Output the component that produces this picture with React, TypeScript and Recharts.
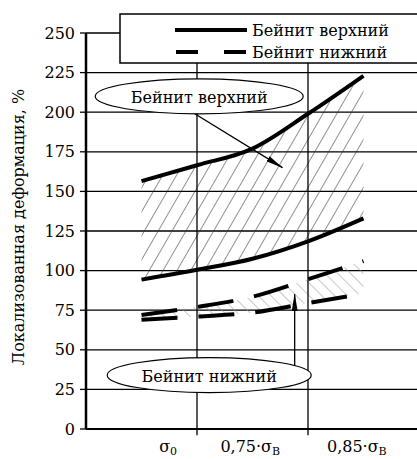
import React from 'react'
import {
  ComposedChart,
  Line,
  Area,
  XAxis,
  YAxis,
  CartesianGrid,
  ReferenceLine,
  ReferenceDot,
  Legend,
} from 'recharts'

// stress levels on the x axis (0 = axis, 1 and 2 = grid lines)
const xValues = [0.5, 1, 1.5, 2, 2.5]
// upper bainite band, %
const upperMax = [156.5, 166.5, 177, 199, 223]
const upperMin = [94.3, 100.5, 107.5, 118.5, 133]
// lower bainite band, %
const lowerMax = [72, 77, 83.5, 94.5, 106]
const lowerMin = [69, 71, 73.5, 79.5, 85.5]

const yTicks = [0, 25, 50, 75, 100, 125, 150, 175, 200, 225, 250]
const gridX = [1, 2]
const xLabelPos = [0.74, 1.48, 2.44]
const xLabelMain = ['σ', '0,75·σ', '0,85·σ']
const xLabelSub = ['0', 'B', 'B']

const seriesNames = ['Бейнит верхний', 'Бейнит нижний']
const yTitle = 'Локализованная деформация, %'

const FONT = "'DejaVu Serif', serif"
const txt = { fontFamily: FONT, fontSize: 16 }

const data = xValues.map((x, i) => ({
  x,
  uMax: upperMax[i],
  uMin: upperMin[i],
  lMax: lowerMax[i],
  lMin: lowerMin[i],
  uRange: [upperMin[i], upperMax[i]],
  lRange: [lowerMin[i], lowerMax[i]],
}))

function XTick(props: any) {
  const { x, y, index } = props
  return (
    <text x={x} y={y + 15} textAnchor="middle" style={txt} fill="#000">
      <tspan>{xLabelMain[index]}</tspan>
      <tspan style={{ fontSize: 11 }} dy={3}>
        {xLabelSub[index]}
      </tspan>
    </text>
  )
}

function LegendBox() {
  return (
    <svg width={310} height={52} style={{ display: 'block' }}>
      <rect x={1} y={1} width={330} height={49} fill="#fff" stroke="#000" strokeWidth={1.5} />
      <line x1={56} y1={17} x2={128} y2={17} stroke="#000" strokeWidth={4} />
      <text x={133} y={23} style={txt} fill="#000">
        {seriesNames[0]}
      </text>
      <line x1={57} y1={39} x2={128} y2={39} stroke="#000" strokeWidth={4} strokeDasharray="22 26" />
      <text x={133} y={45} style={txt} fill="#000">
        {seriesNames[1]}
      </text>
    </svg>
  )
}

function Bubble(text: string, rx: number) {
  return (p: any) => (
    <g>
      <ellipse cx={p.cx} cy={p.cy} rx={rx} ry={17.5} fill="#fff" stroke="#000" strokeWidth={1.2} />
      <text x={p.cx} y={p.cy + 7} textAnchor="middle" style={txt} fill="#000">
        {text}
      </text>
    </g>
  )
}

const arrowLine = (p: any) => (
  <line x1={p.x1} y1={p.y1} x2={p.x2} y2={p.y2} stroke="#000" strokeWidth={1.3} markerEnd="url(#arrowHead)" />
)

export default function App() {
  return (
    <div
      style={{
        position: 'absolute',
        left: 0,
        top: 0,
        width: 417,
        height: 459,
        overflow: 'hidden',
        background: '#fff',
        fontFamily: FONT,
      }}
    >
      <ComposedChart width={440} height={459} data={data} margin={{ top: 33, right: 21, bottom: 0, left: 0 }}>
        <defs>
          <pattern id="hatchUp" width={12} height={12} patternUnits="userSpaceOnUse" patternTransform="rotate(30)">
            <line x1={0} y1={0} x2={0} y2={12} stroke="#333" strokeWidth={1.1} />
          </pattern>
          <pattern id="hatchDown" width={9} height={9} patternUnits="userSpaceOnUse" patternTransform="rotate(-45)">
            <line x1={0} y1={0} x2={0} y2={9} stroke="#999" strokeWidth={1.1} />
          </pattern>
          <marker
            id="arrowHead"
            viewBox="0 0 18 6"
            refX={17}
            refY={3}
            markerWidth={18}
            markerHeight={6}
            markerUnits="userSpaceOnUse"
            orient="auto"
          >
            <path d="M0,0 L18,3 L0,6 z" fill="#000" />
          </marker>
        </defs>
        <CartesianGrid vertical={false} stroke="#000" strokeWidth={1.3} />
        <XAxis
          dataKey="x"
          type="number"
          domain={[0, 3]}
          ticks={xLabelPos}
          tick={<XTick />}
          tickLine={false}
          axisLine={{ stroke: '#000', strokeWidth: 2 }}
          height={30}
          interval={0}
        />
        <YAxis
          type="number"
          domain={[0, 250]}
          ticks={yTicks}
          width={86}
          tickSize={6}
          tickMargin={5}
          tickLine={{ stroke: '#000', strokeWidth: 1.3 }}
          axisLine={{ stroke: '#000', strokeWidth: 2.5 }}
          tick={{ fill: '#000', style: txt }}
          interval={0}
          label={{
            content: () => (
              <text transform="translate(24,227) rotate(-90)" textAnchor="middle" style={txt} fill="#000">
                {yTitle}
              </text>
            ),
          }}
        />
        {gridX.map((gx) => (
          <ReferenceLine
            key={gx}
            segment={[
              { x: gx, y: -4 },
              { x: gx, y: 250 },
            ]}
            stroke="#000"
            strokeWidth={1.3}
            ifOverflow="visible"
          />
        ))}
        <Area
          dataKey="uRange"
          type="monotone"
          fill="url(#hatchUp)"
          fillOpacity={1}
          stroke="none"
          isAnimationActive={false}
          legendType="none"
          activeDot={false}
        />
        <Area
          dataKey="lRange"
          type="monotone"
          fill="url(#hatchDown)"
          fillOpacity={1}
          stroke="none"
          isAnimationActive={false}
          legendType="none"
          activeDot={false}
        />
        <Line dataKey="uMax" type="monotone" stroke="#000" strokeWidth={4} dot={false} isAnimationActive={false} />
        <Line dataKey="uMin" type="monotone" stroke="#000" strokeWidth={4} dot={false} isAnimationActive={false} />
        <Line
          dataKey="lMax"
          type="monotone"
          stroke="#000"
          strokeWidth={4}
          strokeDasharray="36 21"
          dot={false}
          isAnimationActive={false}
        />
        <Line
          dataKey="lMin"
          type="monotone"
          stroke="#000"
          strokeWidth={4}
          strokeDasharray="36 21"
          dot={false}
          isAnimationActive={false}
        />
        <ReferenceDot x={1.02} y={210} r={1} ifOverflow="visible" shape={Bubble(seriesNames[0], 104)} />
        <ReferenceLine
          segment={[
            { x: 0.98, y: 199 },
            { x: 1.77, y: 165 },
          ]}
          ifOverflow="visible"
          shape={arrowLine}
        />
        <ReferenceDot x={1.11} y={34} r={1} ifOverflow="visible" shape={Bubble(seriesNames[1], 102)} />
        <ReferenceLine
          segment={[
            { x: 1.88, y: 33 },
            { x: 1.88, y: 85 },
          ]}
          ifOverflow="visible"
          shape={arrowLine}
        />
        <Legend
          layout="horizontal"
          verticalAlign="middle"
          align="center"
          content={<LegendBox />}
          wrapperStyle={{ position: 'absolute', left: 119, top: 13, width: 310, height: 52 }}
        />
      </ComposedChart>
    </div>
  )
}
